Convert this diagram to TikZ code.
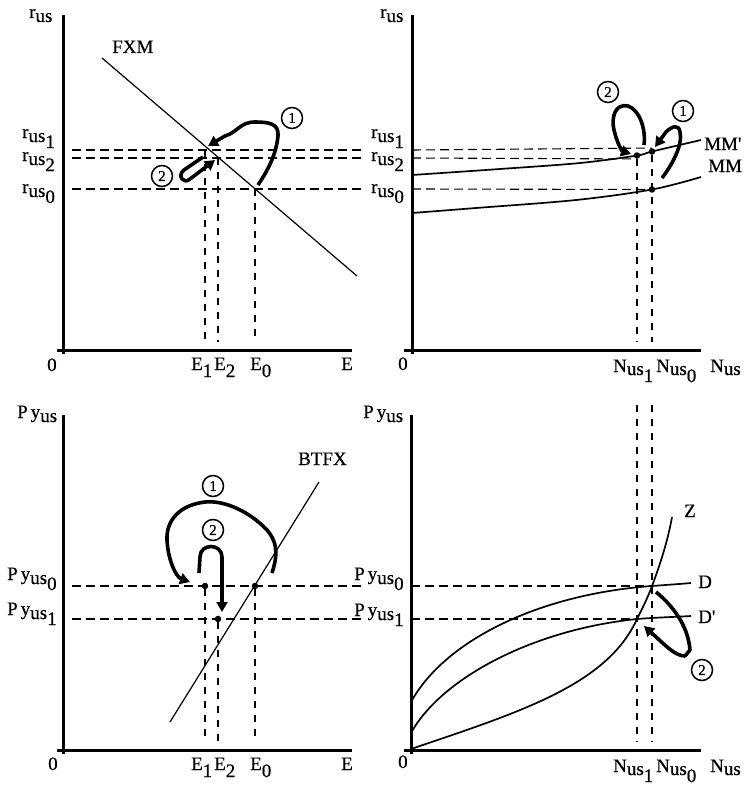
\documentclass[tikz,border=0pt]{standalone}
\usepackage{fontspec}
\setmainfont{Liberation Serif}[FakeBold=0.6]
\usetikzlibrary{arrows.meta}
\newcommand\lo[2]{\raisebox{-#1bp}{#2}}
\begin{document}
\begin{tikzpicture}[x=1bp,y=-1bp,
  axis/.style={line width=3bp},
  hd/.style={line width=1.1bp, dash pattern=on 9bp off 5bp},
  vd/.style={line width=1.1bp, dash pattern=on 7bp off 7bp},
  thinln/.style={line width=1.2bp},
  crv/.style={line width=1.7bp},
  arr/.style={line width=3.6bp, line join=round, -{Triangle[length=10bp,width=11bp]}},
  dot/.style={circle, fill=black, inner sep=0pt, minimum size=6.5bp},
  lbl/.style={anchor=base west, inner sep=0pt, font=\fontsize{19bp}{21bp}\selectfont},
  cnum/.style={circle, draw, line width=1.5bp, inner sep=0pt, minimum size=21bp, font=\fontsize{15bp}{15bp}\selectfont}]
\useasboundingbox (0,0) rectangle (752,785);

%================ TOP LEFT =================
\coordinate (tlxa) at (57,350); \coordinate (tlxb) at (352,350);
\coordinate (tlya) at (63,15);  \coordinate (tlyb) at (63,354);
\draw[axis] (tlxa) -- (tlxb);
\draw[axis] (tlya) -- (tlyb);
\coordinate (fxma) at (102,58); \coordinate (fxmb) at (357,276);
\draw[thinln] (fxma) -- (fxmb);
\coordinate (h1a) at (72,150);  \coordinate (h1b) at (365,150);
\coordinate (h2a) at (72,158);  \coordinate (h2b) at (365,158);
\coordinate (h0a) at (72,189);  \coordinate (h0b) at (365,189);
\draw[hd] (h1a) -- (h1b);
\draw[hd] (h2a) -- (h2b);
\draw[hd] (h0a) -- (h0b);
\coordinate (e1a) at (205,150); \coordinate (e1b) at (205,342);
\coordinate (e2a) at (218,158); \coordinate (e2b) at (218,342);
\coordinate (e0a) at (255,189); \coordinate (e0b) at (255,342);
\draw[vd] (e1a) -- (e1b);
\draw[vd] (e2a) -- (e2b);
\draw[vd] (e0a) -- (e0b);
\draw[arr] (258,185) .. controls (268,170) and (276,155) .. (278,136)
  .. controls (279,124) and (270,122) .. (255,122)
  .. controls (240,122) and (238,132) .. (225,136) -- (208,146);
\draw[arr] (203,157) -- (184,170) .. controls (177,175) and (183,185) .. (190,179) -- (215,160);
\node[cnum] (tlc1) at (292,118) {1};
\node[cnum] (tlc2) at (162,176) {2};
\node[lbl] (tlr) at (29,18) {r\lo{4}{us}};
\node[lbl] (tlfxm) at (112,53) {FXM};
\node[lbl] (tlr1) at (22,138) {r\lo{4}{us}\lo{10}{1}};
\node[lbl] (tlr2) at (22,161) {r\lo{4}{us}\lo{10}{2}};
\node[lbl] (tlr0) at (22,193) {r\lo{4}{us}\lo{10}{0}};
\node[lbl] (tl0) at (47,371) {0};
\node[lbl] (tle1) at (191,370) {E\lo{7}{1}};
\node[lbl] (tle2) at (214,370) {E\lo{7}{2}};
\node[lbl] (tle0) at (250,370) {E\lo{7}{0}};
\node[lbl] (tle) at (341,370) {E};

%================ TOP RIGHT =================
\coordinate (trxa) at (404,350); \coordinate (trxb) at (701,350);
\coordinate (trya) at (412,15);  \coordinate (tryb) at (412,354);
\draw[axis] (trxa) -- (trxb);
\draw[axis] (trya) -- (tryb);
\draw[crv] plot[smooth, tension=0.55] coordinates {(412,175) (500,169) (580,163) (637,155.5) (652,151.5) (701,140)};
\draw[crv] plot[smooth, tension=0.55] coordinates {(412,213) (476,208) (576,200) (652,189.5) (701,177)};
\node[dot] (dA) at (637,155.5) {};
\node[dot] (dB) at (652,151.5) {};
\node[dot] (dC) at (652,189.5) {};
\coordinate (rh1a) at (412,150); \coordinate (rh2a) at (412,158); \coordinate (rh0a) at (412,189);
\draw[hd] (rh1a) -- (dB.north -| dB);
\draw[hd] (rh2a) -- (dA.south -| dA);
\draw[hd] (rh0a) -- (dC);
\coordinate (n1b) at (637,342); \coordinate (n0b) at (652,342);
\draw[vd] (dA) -- (n1b);
\draw[vd] (dB) -- (n0b);
\draw[arr] (644,145) .. controls (646,130) and (640,110) .. (628,106)
  .. controls (615,103) and (611,118) .. (614,130)
  .. controls (617,143) and (622,151) .. (631,154);
\draw[arr] (662,178) .. controls (672,165) and (683,145) .. (680,132)
  .. controls (679,124) and (672,126) .. (666,132) -- (655,147);
\node[cnum] (trc2) at (608,92) {2};
\node[cnum] (trc1) at (683,111) {1};
\node[lbl] (trr) at (380,18) {r\lo{4}{us}};
\node[lbl] (trr1) at (371,138) {r\lo{4}{us}\lo{10}{1}};
\node[lbl] (trr2) at (371,161) {r\lo{4}{us}\lo{10}{2}};
\node[lbl] (trr0) at (371,193) {r\lo{4}{us}\lo{10}{0}};
\node[lbl] (trmmp) at (704,150) {MM\textquotesingle};
\node[lbl] (trmm) at (708,172) {MM};
\node[lbl] (tr0) at (398,370) {0};
\node[lbl] (trn1) at (613,372) {N\lo{3}{us}\lo{10}{1}};
\node[lbl] (trn0) at (656,372) {N\lo{3}{us}\lo{10}{0}};
\node[lbl] (trn) at (710,372) {N\lo{3}{us}};

%================ BOTTOM LEFT =================
\coordinate (blxa) at (57,750); \coordinate (blxb) at (352,750);
\coordinate (blya) at (63,415);  \coordinate (blyb) at (63,754);
\draw[axis] (blxa) -- (blxb);
\draw[axis] (blya) -- (blyb);
\coordinate (btfa) at (170,722); \coordinate (btfb) at (319,482);
\draw[thinln] (btfa) -- (btfb);
\coordinate (p0a) at (72,586);  \coordinate (p0b) at (365,586);
\coordinate (p1a) at (72,619);  \coordinate (p1b) at (365,619);
\draw[hd] (p0a) -- (p0b);
\draw[hd] (p1a) -- (p1b);
\node[dot] (bd1) at (205,586) {};
\node[dot] (bd0) at (255,586) {};
\node[dot] (bd2) at (218,619) {};
\coordinate (be1b) at (205,742); \coordinate (be2b) at (218,742); \coordinate (be0b) at (255,742);
\draw[vd] (bd1) -- (be1b);
\draw[vd] (bd2) -- (be2b);
\draw[vd] (bd0) -- (be0b);
\draw[arr] (272,573) .. controls (276,560) and (280,545) .. (267,530)
  .. controls (250,512) and (225,500) .. (205,502)
  .. controls (180,505) and (166,520) .. (167,540)
  .. controls (168,560) and (176,577) .. (190,582);
\draw[arr] (199,573) -- (200,557) .. controls (200,543) and (222,543) .. (222,557) -- (222,612);
\node[cnum] (blc1) at (213,486) {1};
\node[cnum] (blc2) at (213,530) {2};
\node[lbl] (blp) at (17,418) {P\kern3bp y\lo{4}{us}};
\node[lbl] (blp0) at (7,580) {P\kern3bp y\lo{4}{us}\lo{10}{0}};
\node[lbl] (blp1) at (7,615) {P\kern3bp y\lo{4}{us}\lo{10}{1}};
\node[lbl] (blbt) at (298,465) {BTFX};
\node[lbl] (bl0) at (48,770) {0};
\node[lbl] (ble1) at (191,770) {E\lo{7}{1}};
\node[lbl] (ble2) at (214,770) {E\lo{7}{2}};
\node[lbl] (ble0) at (250,770) {E\lo{7}{0}};
\node[lbl] (ble) at (341,770) {E};

%================ BOTTOM RIGHT =================
\coordinate (brxa) at (404,750); \coordinate (brxb) at (701,750);
\coordinate (brya) at (411,415);  \coordinate (bryb) at (411,754);
\draw[axis] (brxa) -- (brxb);
\draw[axis] (brya) -- (bryb);
\coordinate (XD) at (652,586);
\coordinate (XDp) at (637,619);
\draw[crv] (411,702) .. controls (445,640) and (540,594) .. (XD)
  .. controls (665,585) and (680,584) .. (691,583);
\draw[crv] (411,733) .. controls (440,680) and (530,630) .. (XDp)
  .. controls (655,617.5) and (675,617) .. (691,616);
\draw[crv] (411,749) .. controls (520,712) and (607,685) .. (XDp)
  .. controls (643,607) and (648,597) .. (XD)
  .. controls (660,565) and (668,540) .. (672,517);
\coordinate (q0a) at (411,586); \coordinate (q1a) at (411,619);
\draw[hd] (q0a) -- (XD);
\draw[hd] (q1a) -- (XDp);
\coordinate (v1a) at (637,405); \coordinate (v1b) at (637,742);
\coordinate (v0a) at (652,405); \coordinate (v0b) at (652,742);
\draw[vd] (v1a) -- (v1b);
\draw[vd] (v0a) -- (v0b);
\draw[arr] (656,592) .. controls (672,605) and (688,625) .. (690,650)
  -- (685,656) .. controls (675,656) and (665,645) .. (644,626);
\node[cnum] (brc2) at (702,670) {2};
\node[lbl] (brp) at (363,418) {P\kern3bp y\lo{4}{us}};
\node[lbl] (brp0) at (354,580) {P\kern3bp y\lo{4}{us}\lo{10}{0}};
\node[lbl] (brp1) at (354,616) {P\kern3bp y\lo{4}{us}\lo{10}{1}};
\node[lbl] (brz) at (684,517) {Z};
\node[lbl] (brd) at (698,588) {D};
\node[lbl] (brdp) at (698,623) {D\textquotesingle};
\node[lbl] (br0) at (398,768) {0};
\node[lbl] (brn1) at (613,772) {N\lo{3}{us}\lo{10}{1}};
\node[lbl] (brn0) at (656,772) {N\lo{3}{us}\lo{10}{0}};
\node[lbl] (brn) at (710,772) {N\lo{3}{us}};
\end{tikzpicture}
\end{document}
